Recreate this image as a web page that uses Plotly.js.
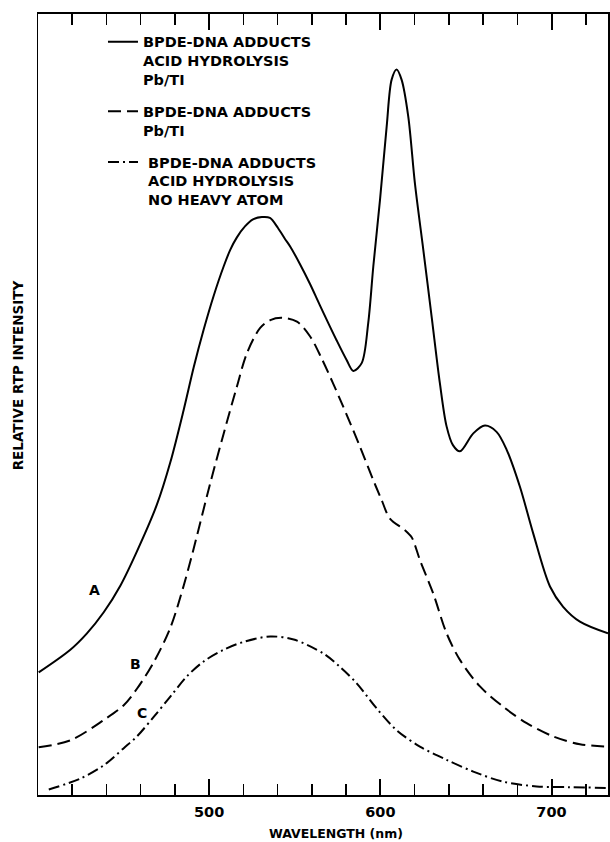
<!DOCTYPE html>
<html>
<head>
<meta charset="utf-8">
<script src="https://cdn.plot.ly/plotly-3.0.1.min.js"></script>
<style>
  html, body { margin: 0; padding: 0; background: #ffffff; }
  #chart { width: 610px; height: 842px; }
</style>
</head>
<body>
<div id="chart"></div>
<script>
// Wavelength (nm) and relative RTP intensity (arbitrary units, 0-100 scale)
const waveA = [400.4, 418.9, 428.6, 438.4, 448.1, 457.8, 469.5, 477.3, 485.1, 491.0, 496.8, 502.6, 508.5, 512.3, 516.2, 520.9, 525.6, 530.8, 535.5, 540.2, 544.3, 547.4, 553.0, 559.0, 564.7, 574.5, 580.3, 584.2, 589.1, 592.9, 595.9, 599.8, 603.7, 606.6, 609.5, 612.4, 616.3, 620.2, 625.1, 630.0, 634.8, 638.7, 642.4, 646.5, 654.3, 661.1, 667.9, 673.8, 681.5, 689.3, 699.1, 706.8, 716.6, 733.0];
const intA  = [15.7, 18.6, 20.7, 23.4, 26.8, 31.2, 37.2, 42.6, 49.3, 54.8, 59.6, 63.9, 67.7, 69.8, 71.4, 72.8, 73.7, 74.0, 73.9, 72.6, 71.2, 70.2, 68.0, 65.4, 62.7, 58.2, 55.7, 54.3, 55.3, 60.4, 67.7, 76.2, 85.6, 91.6, 92.9, 91.6, 86.9, 78.3, 69.8, 61.2, 52.7, 47.2, 44.8, 44.0, 46.3, 47.3, 46.5, 44.2, 39.5, 33.5, 26.7, 24.1, 22.2, 20.7];

const waveB = [400.4, 418.9, 438.4, 450.1, 457.8, 467.6, 477.3, 485.1, 491.0, 500.6, 508.5, 516.2, 522.1, 529.8, 535.7, 542.5, 551.3, 559.0, 565.7, 576.4, 588.1, 595.9, 600.7, 605.6, 614.4, 618.3, 620.2, 623.1, 630.9, 638.7, 646.5, 658.2, 671.8, 685.5, 701.0, 716.6, 733.0];
const intB  = [6.1, 7.0, 9.6, 11.5, 13.6, 17.0, 21.4, 26.8, 31.6, 39.9, 46.3, 52.3, 56.6, 59.8, 60.8, 61.1, 60.6, 58.7, 55.9, 50.7, 44.6, 40.3, 37.8, 35.4, 33.9, 33.0, 32.0, 30.1, 25.8, 20.7, 17.3, 13.9, 11.3, 9.2, 7.5, 6.5, 6.2];

const waveC = [406.3, 424.7, 438.4, 450.1, 457.8, 467.6, 477.3, 487.0, 496.8, 508.5, 520.1, 535.7, 549.4, 566.9, 576.4, 586.2, 597.8, 609.5, 623.1, 638.7, 654.3, 671.8, 691.3, 710.7, 733.0];
const intC  = [0.7, 2.1, 3.8, 6.0, 7.5, 10.0, 12.6, 15.2, 17.1, 18.6, 19.6, 20.3, 19.9, 18.1, 16.4, 14.3, 11.1, 8.3, 6.2, 4.5, 3.0, 1.7, 1.1, 1.0, 0.9];

const seriesNames = [
  "BPDE-DNA ADDUCTS<br>ACID HYDROLYSIS<br>Pb/TI",
  "BPDE-DNA ADDUCTS<br>Pb/TI",
  "\u00a0BPDE-DNA ADDUCTS<br>\u00a0ACID HYDROLYSIS<br>\u00a0NO HEAVY ATOM"
];
const curveLabels = ["A", "B", "C"];
const labelWave = [432.9, 457.2, 460.7];
const labelInt  = [26.3, 16.8, 10.5];

const majorTicks = [500, 600, 700];
const majorTickText = ["500", "600", "700"];

const FONT = "DejaVu Sans, Liberation Sans, Arial, sans-serif";

const traces = [
  { x: waveA, y: intA, name: seriesNames[0], legendgroup: "a",
    mode: "lines", line: { color: "#000", width: 2, shape: "spline", smoothing: 0.9 } },
  { x: waveB, y: intB, name: seriesNames[1], legendgroup: "b",
    mode: "lines", line: { color: "#000", width: 2, shape: "spline", smoothing: 0.9, dash: "13px,6px" } },
  { x: waveC, y: intC, name: seriesNames[2], legendgroup: "c",
    mode: "lines", line: { color: "#000", width: 2, shape: "spline", smoothing: 0.9, dash: "11px,4px,2px,4px" } }
];

const annotations = curveLabels.map((t, i) => ({
  x: labelWave[i], y: labelInt[i], xref: "x", yref: "y", text: t, showarrow: false,
  font: { family: FONT, size: 14, color: "#000", weight: "bold" }
}));
annotations.push({
  xref: "paper", yref: "paper", x: -0.036, y: 0.538, text: "RELATIVE RTP INTENSITY",
  textangle: -90, showarrow: false, xanchor: "center", yanchor: "middle",
  font: { family: FONT, size: 13.5, color: "#000", weight: "bold" }
});
annotations.push({
  xref: "paper", yref: "paper", x: 0.523, y: -0.049, text: "WAVELENGTH (nm)",
  showarrow: false, xanchor: "center", yanchor: "middle",
  font: { family: FONT, size: 12.5, color: "#000", weight: "bold" }
});

const layout = {
  width: 610, height: 842,
  margin: { l: 38, r: 2, t: 14, b: 47 },
  paper_bgcolor: "#fff", plot_bgcolor: "#fff",
  showlegend: true,
  legend: {
    x: 0.114, y: 0.985, xanchor: "left", yanchor: "top",
    bgcolor: "rgba(0,0,0,0)", borderwidth: 0,
    traceorder: "grouped", tracegroupgap: 10, valign: "top",
    font: { family: FONT, size: 14.5, color: "#000", weight: "bold" }
  },
  xaxis: {
    range: [400, 733], showgrid: false, zeroline: false,
    showline: true, linecolor: "#000", linewidth: 2, mirror: "ticks",
    ticks: "inside", ticklen: 16, tickwidth: 2, tickcolor: "#000",
    tickvals: majorTicks, ticktext: majorTickText,
    ticklabelstandoff: 3,
    tickfont: { family: FONT, size: 14.5, color: "#000", weight: "bold" },
    minor: { dtick: 20, tick0: 400, ticks: "inside", ticklen: 11, tickwidth: 1.5, tickcolor: "#000", showgrid: false }
  },
  yaxis: {
    range: [0, 100], showgrid: false, zeroline: false,
    showline: true, linecolor: "#000", linewidth: 1.5, mirror: true,
    ticks: "", showticklabels: false
  },
  annotations: annotations
};

Plotly.newPlot("chart", traces, layout, { staticPlot: true, displayModeBar: false });
</script>
</body>
</html>
